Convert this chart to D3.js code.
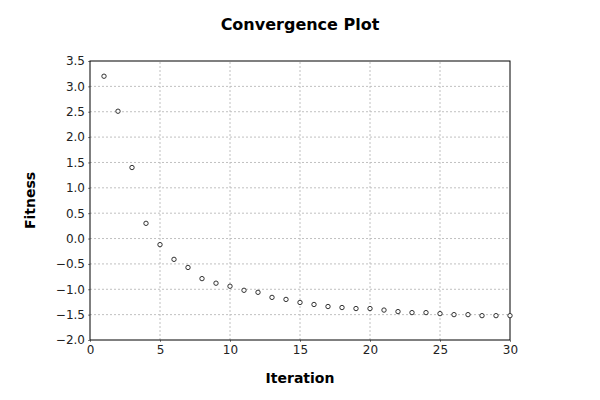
<!DOCTYPE html>
<html><head><meta charset="utf-8">
<script src="https://cdn.jsdelivr.net/npm/d3@7"></script>
<style>body{margin:0;background:#fff;}svg{display:block;font-family:"DejaVu Sans",sans-serif;}</style>
</head><body>
<script>
const iterations = d3.range(1, 31);
const fitness = [3.20, 2.51, 1.40, 0.30, -0.12, -0.41, -0.57, -0.79, -0.88, -0.94,
  -1.02, -1.06, -1.16, -1.20, -1.26, -1.30, -1.34, -1.36, -1.38, -1.38,
  -1.41, -1.44, -1.46, -1.46, -1.48, -1.50, -1.50, -1.52, -1.52, -1.52];
const xTicks = [0, 5, 10, 15, 20, 25, 30];
const yTicks = [-2.0, -1.5, -1.0, -0.5, 0.0, 0.5, 1.0, 1.5, 2.0, 2.5, 3.0, 3.5];

const W = 600, H = 400;
const m = {left: 90, right: 90, top: 61, bottom: 60};
const svg = d3.select("body").append("svg").attr("width", W).attr("height", H);
svg.append("rect").attr("width", W).attr("height", H).attr("fill", "#fff");

const x = d3.scaleLinear().domain([0, 30]).range([m.left, W - m.right]);
const y = d3.scaleLinear().domain([-2, 3.5]).range([H - m.bottom, m.top]);

// grid
svg.append("g").selectAll("line").data(xTicks.slice(1, -1)).join("line")
  .attr("x1", d => x(d)).attr("x2", d => x(d)).attr("y1", y(-2)).attr("y2", y(3.5))
  .attr("stroke", "#c0c0c0").attr("stroke-dasharray", "2,2").attr("stroke-width", 1);
svg.append("g").selectAll("line").data(yTicks.slice(1, -1)).join("line")
  .attr("x1", x(0)).attr("x2", x(30)).attr("y1", d => y(d)).attr("y2", d => y(d))
  .attr("stroke", "#c0c0c0").attr("stroke-dasharray", "2,2").attr("stroke-width", 1);

// axes
const xa = svg.append("g").attr("transform", `translate(0,${y(-2)})`)
  .call(d3.axisBottom(x).tickValues(xTicks).tickFormat(d3.format("d")).tickSize(2).tickPadding(3));
const ya = svg.append("g").attr("transform", `translate(${x(0)},0)`)
  .call(d3.axisLeft(y).tickValues(yTicks).tickFormat(d3.format(".1f")).tickSize(2).tickPadding(3));
[xa, ya].forEach(a => {
  a.selectAll("text").attr("font-size", 12).attr("fill", "#222").attr("font-family", "DejaVu Sans");
  a.select(".domain").remove();
  a.selectAll(".tick line").attr("stroke", "#888");
});

// frame
svg.append("rect").attr("x", x(0)).attr("y", y(3.5)).attr("width", x(30) - x(0)).attr("height", y(-2) - y(3.5))
  .attr("fill", "none").attr("stroke", "#000").attr("stroke-width", 1);

// points
svg.append("g").selectAll("circle").data(iterations).join("circle")
  .attr("cx", (d) => x(d)).attr("cy", (d, i) => y(fitness[i])).attr("r", 2.2)
  .attr("fill", "#fff").attr("stroke", "#333").attr("stroke-width", 1);

// titles
svg.append("text").attr("x", 300).attr("y", 30).attr("text-anchor", "middle")
  .attr("font-size", 16).attr("font-weight", "bold").text("Convergence Plot");
svg.append("text").attr("x", x(15)).attr("y", 383).attr("text-anchor", "middle")
  .attr("font-size", 14).attr("font-weight", "bold").text("Iteration");
svg.append("text").attr("transform", `translate(35,${(y(-2)+y(3.5))/2}) rotate(-90)`).attr("text-anchor", "middle")
  .attr("font-size", 14).attr("font-weight", "bold").text("Fitness");
</script>
</body></html>
